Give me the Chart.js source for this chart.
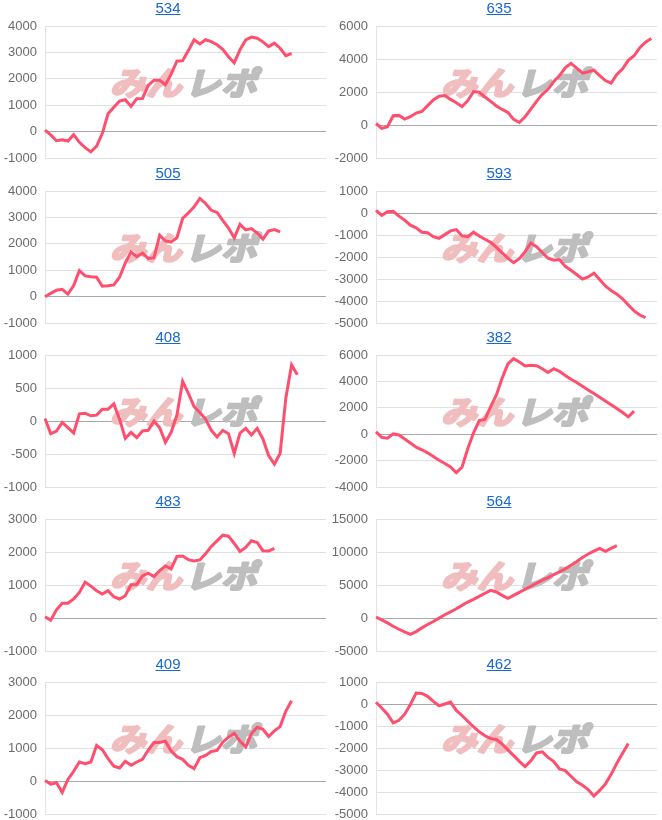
<!DOCTYPE html>
<html>
<head>
<meta charset="utf-8">
<script src="https://cdn.jsdelivr.net/npm/chart.js@4"></script>
<style>
  body { margin: 0; background: #fff; }
  #wrap { position: relative; width: 662px; height: 820px; overflow: hidden; }
  .ttl { position: absolute; width: 336px; text-align: center; font: 15px Arial, "Liberation Sans", sans-serif; line-height: 16px; z-index: 2; }
  .ttl a { color: #1967d2; text-decoration: underline; }
  canvas { position: absolute; }
</style>
</head>
<body>
<div id="wrap"></div>
<script>
// machine numbers (chart titles)
const titles = ['534', '635', '505', '593', '408', '382', '483', '564', '409', '462'];

// y axis tick ranges per chart
const tickMin = [-1000, -2000, -1000, -5000, -1000, -4000, -1000, -5000, -1000, -5000];
const tickMax = [4000, 6000, 4000, 1000, 1000, 6000, 3000, 15000, 3000, 1000];
const tickStep = [1000, 2000, 1000, 1000, 500, 2000, 1000, 5000, 1000, 1000];

// x slots shared by all charts
const xSlots = Array.from({ length: 50 }, (_, i) => i + 1);

// balance series
const s534 = [60, -120, -340, -300, -350, -110, -400, -600, -760, -540, -60, 680, 930, 1160, 1210, 960, 1250, 1260, 1750, 1950, 1950, 1780, 2180, 2670, 2690, 3070, 3480, 3320, 3480, 3410, 3290, 3120, 2840, 2610, 3100, 3470, 3580, 3540, 3400, 3220, 3350, 3160, 2880, 2960];
const s635 = [100, -200, -100, 570, 590, 370, 510, 730, 830, 1180, 1520, 1750, 1790, 1560, 1360, 1120, 1480, 2030, 1990, 1700, 1440, 1160, 950, 770, 350, 160, 510, 970, 1440, 1870, 2170, 2640, 3000, 3470, 3740, 3450, 3150, 3230, 3330, 3000, 2700, 2540, 3070, 3410, 3920, 4200, 4690, 5020, 5250];
const s505 = [0, 130, 250, 280, 100, 420, 990, 790, 760, 740, 400, 420, 450, 740, 1280, 1690, 1520, 1650, 1450, 1470, 2330, 2110, 2070, 2230, 2960, 3170, 3400, 3720, 3530, 3270, 3190, 2890, 2600, 2230, 2740, 2530, 2580, 2410, 2180, 2490, 2540, 2450];
const s593 = [120, -110, 60, 80, -140, -320, -550, -670, -870, -890, -1070, -1150, -980, -810, -750, -1040, -1070, -870, -1040, -1190, -1330, -1560, -1810, -2050, -2250, -2070, -1750, -1360, -1530, -1790, -2050, -2140, -2110, -2420, -2600, -2790, -3000, -2900, -2730, -3020, -3310, -3520, -3680, -3890, -4170, -4440, -4630, -4750];
const s408 = [40, -190, -150, -20, -100, -180, 110, 120, 80, 90, 180, 180, 260, 30, -260, -170, -250, -150, -140, 0, -100, -320, -170, 90, 600, 420, 220, 130, 30, -140, -240, -140, -190, -490, -180, -110, -210, -110, -270, -520, -650, -490, 350, 850, 700];
const s382 = [180, -230, -300, 30, -50, -360, -660, -970, -1170, -1400, -1680, -1960, -2210, -2470, -2900, -2490, -1090, 100, 1040, 1120, 2090, 2980, 4250, 5320, 5720, 5470, 5170, 5220, 5190, 4960, 4680, 4960, 4760, 4450, 4170, 3920, 3640, 3360, 3080, 2800, 2520, 2240, 1960, 1650, 1320, 1750];
const s483 = [40, -60, 250, 450, 450, 580, 780, 1090, 970, 830, 730, 830, 650, 580, 680, 1010, 1020, 1280, 1360, 1260, 1440, 1580, 1490, 1870, 1880, 1770, 1730, 1760, 1950, 2170, 2340, 2510, 2480, 2260, 2020, 2140, 2340, 2290, 2040, 2030, 2110];
const s564 = [150, -250, -710, -1220, -1680, -2080, -2440, -2030, -1470, -960, -510, 0, 510, 960, 1420, 1930, 2440, 2840, 3300, 3760, 4210, 3960, 3450, 2990, 3450, 3910, 4370, 4820, 5280, 5740, 6140, 6600, 7010, 7460, 8020, 8580, 9190, 9700, 10150, 10560, 10100, 10560, 10960];
const s409 = [20, -90, -50, -340, 50, 300, 580, 530, 580, 1080, 950, 680, 450, 400, 600, 480, 580, 660, 940, 1170, 1170, 1210, 910, 740, 660, 480, 380, 710, 780, 900, 930, 1180, 1330, 1450, 1210, 1040, 1440, 1630, 1570, 1350, 1520, 1650, 2120, 2430];
const s462 = [80, -180, -460, -850, -740, -460, -20, 500, 480, 350, 120, -80, 0, 90, -290, -520, -780, -1030, -1260, -1440, -1570, -1610, -1820, -2080, -2340, -2600, -2840, -2580, -2220, -2170, -2420, -2610, -2950, -3020, -3280, -3530, -3690, -3880, -4180, -3920, -3630, -3190, -2690, -2230, -1790];

const series = [s534, s635, s505, s593, s408, s382, s483, s564, s409, s462];

const rowTops = [0, 165, 329, 493, 656];
const wrap = document.getElementById('wrap');

// みんレポ watermark, drawn between grid and line
const watermark = {
  id: 'watermark',
  beforeDatasetsDraw(chart) {
    const { ctx, chartArea } = chart;
    const cx = chartArea.left + 141;
    const cy = chartArea.top + 57;
    ctx.save();
    ctx.translate(cx, cy);
    ctx.transform(1.12, 0, -0.26, 1, 0, 0);
    ctx.font = 'bold 32px "Noto Sans CJK JP"';
    ctx.textBaseline = 'middle';
    ctx.lineWidth = 2.5;
    ctx.lineJoin = 'round';
    ctx.textAlign = 'right';
    ctx.fillStyle = ctx.strokeStyle = 'rgb(240,190,190)';
    ctx.fillText('みん', -1, 0);
    ctx.strokeText('みん', -1, 0);
    ctx.textAlign = 'left';
    ctx.fillStyle = ctx.strokeStyle = 'rgb(190,190,190)';
    ctx.fillText('レポ', 2, 0);
    ctx.strokeText('レポ', 2, 0);
    ctx.restore();
  }
};

titles.forEach((t, i) => {
  const left = (i % 2) * 331;
  const top = rowTops[Math.floor(i / 2)];

  const ttl = document.createElement('div');
  ttl.className = 'ttl';
  ttl.style.left = left + 'px';
  ttl.style.top = top + 'px';
  ttl.innerHTML = '<a href="#">' + t + '</a>';
  wrap.appendChild(ttl);

  const cv = document.createElement('canvas');
  cv.width = 331;
  cv.height = 174;
  cv.style.left = left + 'px';
  cv.style.top = top + 'px';
  wrap.appendChild(cv);

  new Chart(cv.getContext('2d'), {
    type: 'line',
    data: {
      labels: xSlots,
      datasets: [{
        data: series[i],
        borderColor: '#ff4f6e',
        borderWidth: 3,
        pointRadius: 0,
        tension: 0,
        fill: false
      }]
    },
    options: {
      responsive: false,
      animation: false,
      layout: { padding: { top: 26, bottom: 7, left: 0, right: 5 } },
      plugins: { legend: { display: false }, tooltip: { enabled: false } },
      scales: {
        x: { display: false },
        y: {
          min: tickMin[i],
          max: tickMax[i],
          afterFit(scale) { scale.width = 45; },
          border: { color: '#e4e4e4' },
          grid: {
            drawTicks: false,
            color: c => c.tick && c.tick.value === 0 ? '#a8a8a8' : '#e0e0e0'
          },
          ticks: {
            stepSize: tickStep[i],
            padding: 8,
            color: '#6b6b6b',
            font: { family: 'Arial, "Liberation Sans"', size: 13 },
            callback: v => String(v)
          }
        }
      }
    },
    plugins: [watermark]
  });
});
</script>
</body>
</html>
